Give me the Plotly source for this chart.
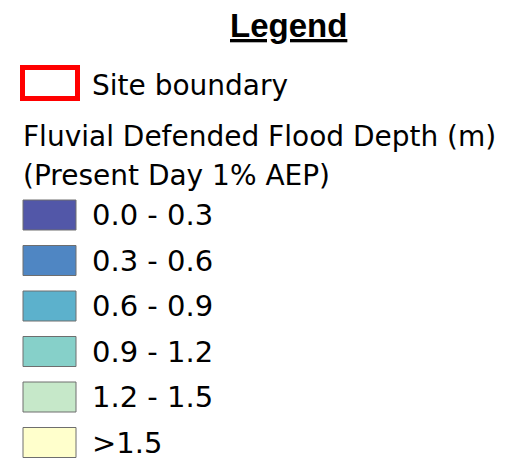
import plotly.graph_objects as go

title = "Legend"
boundary_label = "Site boundary"
heading_lines = ["Fluvial Defended Flood Depth (m)", "(Present Day 1% AEP)"]
classes = ["0.0 - 0.3", "0.3 - 0.6", "0.6 - 0.9", "0.9 - 1.2", "1.2 - 1.5", ">1.5"]
colors = ["#5257a8", "#4f86c3", "#5cb1cc", "#86d0c9", "#c6e8c9", "#ffffcc"]

W, H = 506, 462
PAD = 8  # default page body margin
fig = go.Figure()
fig.add_trace(go.Scatter(x=[PAD, W], y=[PAD, H], mode="markers", marker=dict(opacity=0),
                         hoverinfo="skip", showlegend=False))

FONT = "DejaVu Sans"
shapes = []
ann = []

ann.append(dict(x=288, y=25, text="<b><u>" + title + "</u></b>", showarrow=False,
                font=dict(family="Liberation Sans", size=33, color="black"), xanchor="center", yanchor="middle"))

# site boundary
shapes.append(dict(type="rect", x0=22.5, x1=77.5, y0=67.5, y1=98.5, line=dict(color="#ff0000", width=5),
                   fillcolor="white"))
ann.append(dict(x=90, y=85, text=boundary_label, showarrow=False, font=dict(family=FONT, size=28, color="black"),
                xanchor="left", yanchor="middle"))

for i, line in enumerate(heading_lines):
    ann.append(dict(x=21, y=136 + i * 39, text=line, showarrow=False, font=dict(family=FONT, size=28, color="black"),
                    xanchor="left", yanchor="middle"))

y0 = 215
step = 45.5
for i, lab in enumerate(classes):
    cy = y0 + i * step
    shapes.append(dict(type="rect", x0=23, x1=76, y0=cy - 15, y1=cy + 15, line=dict(color="#6e6e6e", width=1),
                       fillcolor=colors[i]))
    ann.append(dict(x=90, y=cy, text=lab, showarrow=False, font=dict(family=FONT, size=29, color="black"),
                    xanchor="left", yanchor="middle"))

fig.update_layout(width=W - PAD, height=H - PAD, margin=dict(l=0, r=0, t=0, b=0),
                  plot_bgcolor="white", paper_bgcolor="white",
                  shapes=shapes, annotations=ann,
                  xaxis=dict(range=[PAD, W], visible=False, fixedrange=True),
                  yaxis=dict(range=[H, PAD], visible=False, fixedrange=True))
fig.write_html("out.html")
